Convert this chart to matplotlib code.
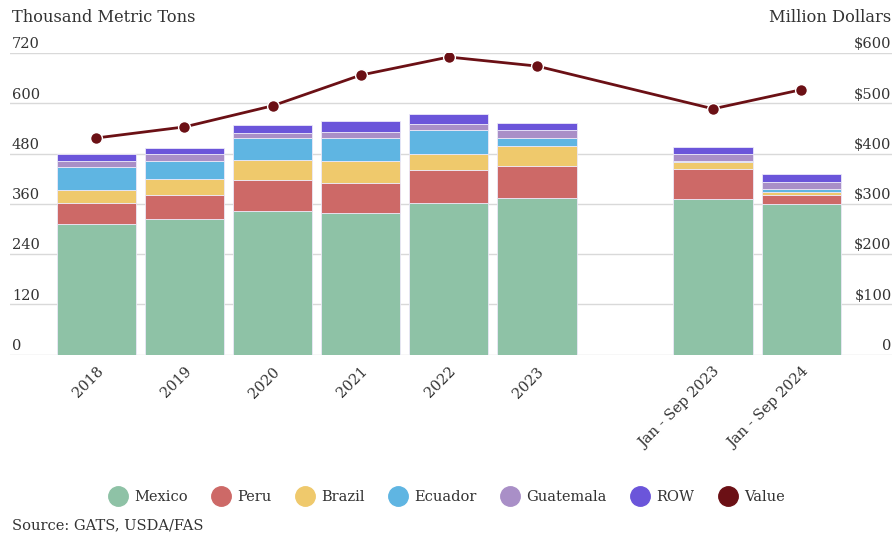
import matplotlib
matplotlib.use("Agg")
import matplotlib.pyplot as plt
from matplotlib.lines import Line2D
from matplotlib.transforms import blended_transform_factory
import numpy as np

categories = ["2018", "2019", "2020", "2021", "2022", "2023", "Jan - Sep 2023", "Jan - Sep 2024"]
positions = [0, 1, 2, 3, 4, 5, 7, 8]

mexico = [312, 325, 343, 337, 361, 374, 371, 359]
peru = [49, 55, 74, 73, 80, 76, 73, 21]
brazil = [31, 39, 48, 52, 39, 49, 15, 9]
ecuador = [55, 43, 52, 55, 56, 18, 3, 6]
guatemala = [15, 16, 12, 15, 15, 19, 16, 16]
row = [17, 15, 19, 25, 24, 18, 18, 21]
value = [431, 453, 495, 556, 592, 574, 489, 527]

left_ticks = [0, 120, 240, 360, 480, 600, 720]
right_ticks = [0, 100, 200, 300, 400, 500, 600]
right_labels = ["0", "$100", "$200", "$300", "$400", "$500", "$600"]

series = [
    ("Mexico", mexico, "#8ec2a6"),
    ("Peru", peru, "#cd6967"),
    ("Brazil", brazil, "#efc96c"),
    ("Ecuador", ecuador, "#5fb5e2"),
    ("Guatemala", guatemala, "#a98fc7"),
    ("ROW", row, "#6b55da"),
]
value_color = "#6b1015"

plt.rcParams["font.family"] = ["DejaVu Serif"]
FS = 10.5
TXT = "#333333"

fig = plt.figure(figsize=(8.94, 5.38), dpi=100)
ax = fig.add_axes([10 / 894, 1 - 354.7 / 538, 882 / 894, (354.7 - 53) / 538])
ax2 = ax.twinx()

bottom = np.zeros(len(positions))
for name, vals, col in series:
    ax.bar(positions, vals, width=0.9, bottom=bottom, color=col,
           edgecolor="#ece8f8", linewidth=0.6, zorder=2)
    bottom += np.array(vals)

ax2.plot(positions, value, color=value_color, lw=2.0, marker="o", markersize=8.5,
         markeredgecolor="white", markeredgewidth=1.0, zorder=5)

ax.set_xlim(-0.98, 9.03)
ax.set_ylim(0, 720)
ax2.set_ylim(0, 600)

for a in (ax, ax2):
    for s in a.spines.values():
        s.set_visible(False)
    a.tick_params(axis="y", length=0, labelleft=False, labelright=False)

ax.set_yticks(left_ticks)
ax.yaxis.grid(True, color="#d9d9d9", lw=1.0, zorder=0)
ax.set_axisbelow(True)
ax2.set_yticks([])
ax2.set_zorder(ax.get_zorder() + 1)
ax2.patch.set_visible(False)

tr = blended_transform_factory(ax.transAxes, ax.transData)
for t in left_ticks:
    ax.text(0.002, t + 4, str(t), transform=tr, ha="left", va="bottom",
            fontsize=FS, color=TXT)
tr2 = blended_transform_factory(ax2.transAxes, ax2.transData)
for t, lab in zip(right_ticks, right_labels):
    ax2.text(0.9995, t + 3.3, lab, transform=tr2, ha="right", va="bottom",
             fontsize=FS, color=TXT)

ax.set_xticks(positions)
ax.set_xticklabels(categories, rotation=45, ha="right", rotation_mode="anchor",
                   fontsize=FS, color=TXT)
ax.tick_params(axis="x", length=0, pad=7)

fig.text(12 / 894, 1 - 17 / 538, "Thousand Metric Tons", ha="left", va="center",
         fontsize=FS + 1.2, color=TXT)
fig.text(891 / 894, 1 - 17 / 538, "Million Dollars", ha="right", va="center",
         fontsize=FS + 1.2, color=TXT)

handles = [Line2D([], [], marker="o", ls="none", markersize=14, markerfacecolor=c,
                  markeredgecolor=c, label=n) for n, _, c in series]
handles.append(Line2D([], [], marker="o", ls="none", markersize=14,
                      markerfacecolor=value_color, markeredgecolor=value_color, label="Value"))
fig.legend(handles=handles, loc="center", bbox_to_anchor=(0.5, 1 - 497 / 538), ncol=7,
           frameon=False, fontsize=FS, handletextpad=0.5, columnspacing=1.7,
           handlelength=1.2, labelcolor=TXT)

fig.text(12 / 894, 1 - 525 / 538, "Source: GATS, USDA/FAS", ha="left", va="center",
         fontsize=FS, color=TXT)

fig.savefig("out.png", dpi=100)
